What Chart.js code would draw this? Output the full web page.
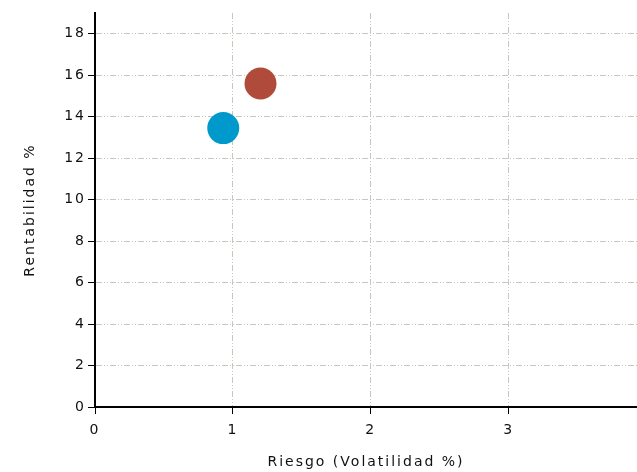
<!DOCTYPE html>
<html>
<head>
<meta charset="utf-8">
<script src="https://cdn.jsdelivr.net/npm/chart.js@4"></script>
<style>
  body { margin: 0; background: #fff; }
  #grafico { display: block; }
</style>
</head>
<body>
<canvas id="grafico" width="637" height="472"></canvas>
<script>
// DATOS
const riesgo = [0.93, 1.2];
const rentabilidad = [13.45, 15.6];
const ticksRiesgo = [0, 1, 2, 3];
const ticksRentabilidad = [0, 2, 4, 6, 8, 10, 12, 14, 16, 18];

const puntos = riesgo.map((x, i) => ({ x: x, y: rentabilidad[i] }));

// ESPACIADO DE LETRAS (como la fuente del original)
const espaciado = {
    id: "espaciado",
    beforeLayout(chart) { chart.ctx.letterSpacing = "2px"; },
    beforeDraw(chart) { chart.ctx.letterSpacing = "2px"; }
};

const fuente = { family: "DejaVu Sans", size: 14 };
const rejilla = {
    color: "#c2cabe",
    lineWidth: 1,
    tickColor: "#000",
    tickLength: 7,
    tickBorderDash: []
};
// raya, punto, punto
const borde = { color: "#000", width: 2, dash: [6, 2, 1, 2, 1, 2] };

const config = {
    type: "scatter",
    data: {
        datasets: [{
            data: puntos,
            backgroundColor: ["#0099cc", "#b04a3b"],
            borderWidth: 0,
            pointRadius: 16,
            pointHoverRadius: 16
        }]
    },
    options: {
        responsive: false,
        animation: false,
        events: [],
        layout: { autoPadding: false, padding: { top: 13, right: 0, left: 0, bottom: 0 } },
        plugins: { legend: { display: false }, tooltip: { enabled: false } },
        scales: {
            x: {
                type: "linear",
                min: 0,
                max: 3.93,
                afterBuildTicks: (s) => { s.ticks = ticksRiesgo.map(v => ({ value: v })); },
                afterFit: (s) => { s.height = 65; },
                grid: rejilla,
                border: borde,
                ticks: { color: "#111", font: fuente, padding: 8, maxRotation: 0 },
                title: { display: true, text: "Riesgo (Volatilidad %)", color: "#111", font: fuente, padding: { top: 0, bottom: 1 } }
            },
            y: {
                type: "linear",
                min: 0,
                max: 19,
                afterBuildTicks: (s) => { s.ticks = ticksRentabilidad.map(v => ({ value: v })); },
                afterFit: (s) => { s.width = 95; },
                grid: rejilla,
                border: borde,
                ticks: { color: "#111", font: fuente, padding: 2 },
                title: { display: true, text: "Rentabilidad %", color: "#111", font: fuente, padding: { top: 22, bottom: 0 } }
            }
        }
    },
    plugins: [espaciado]
};

const myChart = new Chart(document.getElementById("grafico").getContext("2d"), config);
</script>
</body>
</html>
